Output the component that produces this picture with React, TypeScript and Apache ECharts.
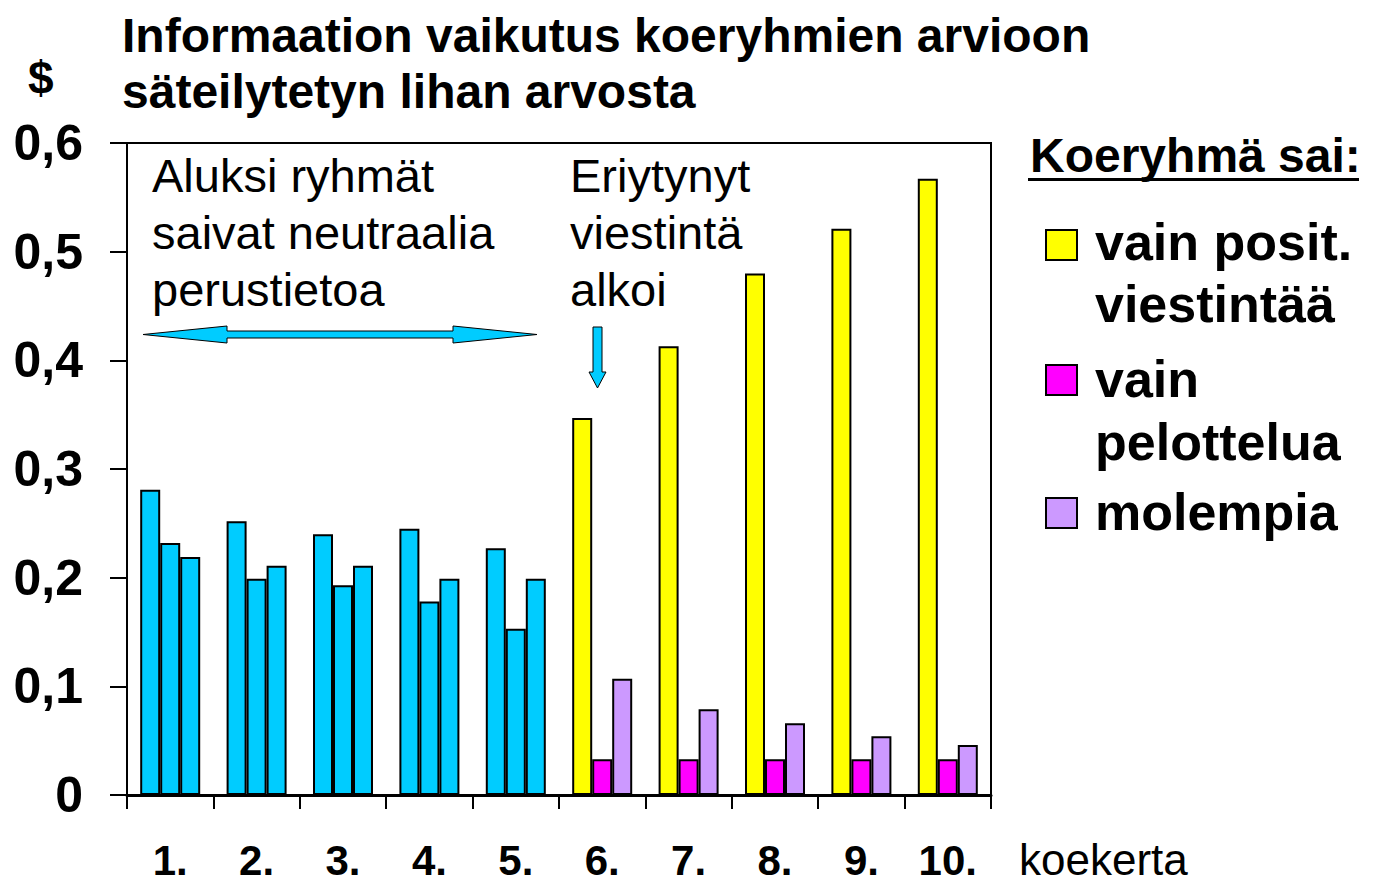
import React, { useEffect, useRef } from "react";
import * as echarts from "echarts";

const categories = ["1.", "2.", "3.", "4.", "5.", "6.", "7.", "8.", "9.", "10."];
const seriesNames = ["vain posit. viestintää", "vain pelottelua", "molempia"];
const positiveValues = [0.281, 0.252, 0.24, 0.245, 0.227, 0.347, 0.413, 0.48, 0.521, 0.567];
const fearValues = [0.232, 0.199, 0.193, 0.178, 0.153, 0.033, 0.033, 0.033, 0.033, 0.033];
const bothValues = [0.219, 0.211, 0.211, 0.199, 0.199, 0.107, 0.079, 0.066, 0.054, 0.046];
const neutralCount = 5;
const yMin = 0;
const yMax = 0.6;
const yInterval = 0.1;

const CYAN = "#00CCFF";
const seriesColors = ["#FFFF00", "#FF00FF", "#CC99FF"];
const FONT = "'Liberation Sans', Arial, Helvetica, sans-serif";

export default function App() {
  const ref = useRef<HTMLDivElement>(null);

  useEffect(() => {
    document.body.style.margin = "0";
    const chart = echarts.init(ref.current as HTMLDivElement, null, { renderer: "svg" });

    const build = (vals: number[], color: string, name: string) => ({
      name,
      type: "bar",
      barWidth: 20,
      barGap: "0%",
      itemStyle: { color, borderColor: "#000", borderWidth: 2 },
      data: vals.map((v, i) =>
        i < neutralCount ? { value: v, itemStyle: { color: CYAN } } : { value: v }
      ),
    });

    const legendItems = [
      { color: seriesColors[0], y: 230, lines: ["vain posit.", "viestintää"], ty: [242, 304] },
      { color: seriesColors[1], y: 365, lines: ["vain", "pelottelua"], ty: [379, 442] },
      { color: seriesColors[2], y: 498, lines: ["molempia"], ty: [512] },
    ];

    const legendGraphics: any[] = [];
    legendItems.forEach((it) => {
      legendGraphics.push({
        type: "rect",
        shape: { x: 1046, y: it.y, width: 31, height: 30 },
        style: { fill: it.color, stroke: "#000", lineWidth: 2 },
      });
      it.lines.forEach((t, k) => {
        legendGraphics.push({
          type: "text",
          x: 1095,
          y: it.ty[k],
          style: {
            text: t,
            font: `bold 52px ${FONT}`,
            fill: "#000",
            verticalAlign: "middle",
            align: "left",
          },
        });
      });
    });

    const textEl = (text: string, x: number, y: number, font: string) => ({
      type: "text",
      x,
      y,
      style: { text, font, fill: "#000", verticalAlign: "middle", align: "left" },
    });

    const option: any = {
      animation: false,
      backgroundColor: "#fff",
      grid: {
        left: 127,
        right: 384,
        top: 143,
        bottom: 90,
        show: true,
        borderColor: "#000",
        borderWidth: 2,
        backgroundColor: "transparent",
      },
      xAxis: {
        type: "category",
        data: categories,
        axisLine: { lineStyle: { color: "#000", width: 3 } },
        axisTick: { show: true, alignWithLabel: false, length: 14, lineStyle: { color: "#000", width: 2 } },
        axisLabel: {
          color: "#000",
          fontFamily: FONT,
          fontWeight: "bold",
          fontSize: 42,
          lineHeight: 42,
          margin: 44,
        },
        splitLine: { show: false },
      },
      yAxis: {
        type: "value",
        min: yMin,
        max: yMax,
        interval: yInterval,
        axisLine: { show: true, lineStyle: { color: "#000", width: 2 } },
        axisTick: { show: true, length: 17, lineStyle: { color: "#000", width: 2 } },
        axisLabel: {
          color: "#000",
          fontFamily: FONT,
          fontWeight: "bold",
          fontSize: 50,
          margin: 44,
          formatter: (v: number) => (v === 0 ? "0" : v.toFixed(1).replace(".", ",")),
        },
        splitLine: { show: false },
      },
      legend: { show: false },
      series: [
        build(positiveValues, seriesColors[0], seriesNames[0]),
        build(fearValues, seriesColors[1], seriesNames[1]),
        build(bothValues, seriesColors[2], seriesNames[2]),
      ],
      graphic: [
        textEl("Informaation vaikutus koeryhmien arvioon", 122, 35, `bold 48px ${FONT}`),
        textEl("säteilytetyn lihan arvosta", 122, 91, `bold 48px ${FONT}`),
        textEl("$", 28, 78, `bold 46px ${FONT}`),
        textEl("Aluksi ryhmät", 152, 175, `47px ${FONT}`),
        textEl("saivat neutraalia", 152, 232, `47px ${FONT}`),
        textEl("perustietoa", 152, 289, `47px ${FONT}`),
        textEl("Eriytynyt", 570, 175, `47px ${FONT}`),
        textEl("viestintä", 570, 232, `47px ${FONT}`),
        textEl("alkoi", 570, 289, `47px ${FONT}`),
        textEl("koekerta", 1019, 859, `44px ${FONT}`),
        textEl("Koeryhmä sai:", 1030, 155, `bold 48px ${FONT}`),
        {
          type: "rect",
          shape: { x: 1028, y: 178, width: 331, height: 3 },
          style: { fill: "#000" },
        },
        {
          type: "polygon",
          shape: {
            points: [
              [143, 334.5],
              [227, 326],
              [227, 331],
              [453, 331],
              [453, 326],
              [537, 334.5],
              [453, 343],
              [453, 338],
              [227, 338],
              [227, 343],
            ],
          },
          style: { fill: CYAN, stroke: "#000", lineWidth: 1 },
        },
        {
          type: "polygon",
          shape: {
            points: [
              [593, 327],
              [602, 327],
              [602, 372],
              [606, 372],
              [597.5, 388],
              [589, 372],
              [593, 372],
            ],
          },
          style: { fill: CYAN, stroke: "#000", lineWidth: 1 },
        },
        ...legendGraphics,
      ],
    };

    chart.setOption(option);
    return () => chart.dispose();
  }, []);

  return <div ref={ref} style={{ width: 1375, height: 885 }} />;
}
